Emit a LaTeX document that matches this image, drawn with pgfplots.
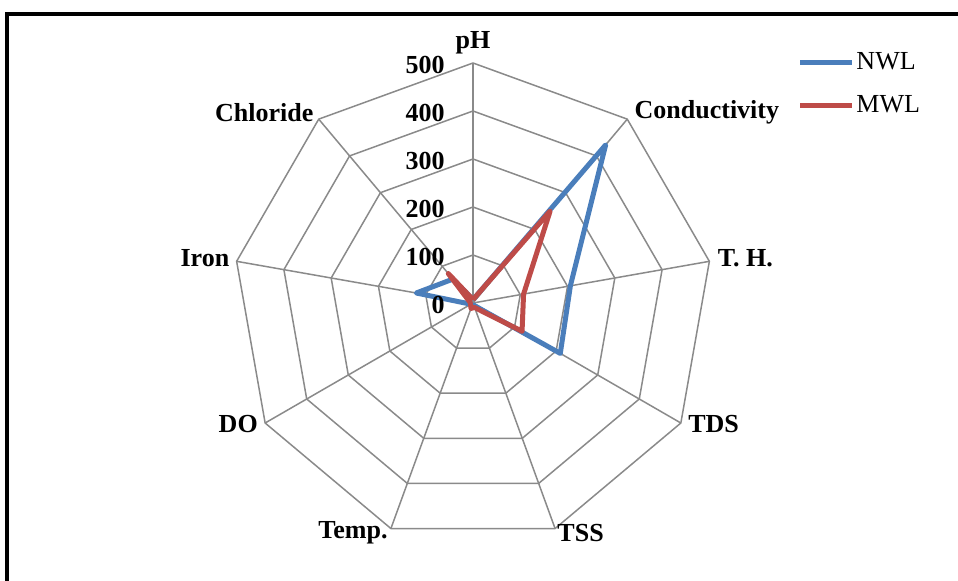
\documentclass[border=0pt]{standalone}
\usepackage{fontspec}
\setmainfont{Liberation Serif}
\usepackage{pgfplots}
\pgfplotsset{compat=1.18}
\usepgfplotslibrary{polar}
\definecolor{nwl}{HTML}{4A7EBB}
\definecolor{mwl}{HTML}{BE4B48}
\definecolor{gridc}{HTML}{8A8A8A}
\newcommand\lbl{\fontsize{13bp}{15bp}\selectfont\bfseries}
\begin{document}
\begin{tikzpicture}
\begin{polaraxis}[
  hide axis,
  width=240bp, height=240bp, scale only axis,
  xmin=0, xmax=360, ymin=0, ymax=500,
  clip=false,
  legend style={at={(1.176,1.0256)}, anchor=north west, draw=none, fill=none,
    font=\fontsize{13bp}{15bp}\selectfont, row sep=10bp, inner sep=0pt,
    nodes={inner sep=0.8bp}},
  legend image code/.code={\draw[#1] (0bp,0bp) -- (26bp,0bp);},
  legend cell align=left,
]
% grid
\pgfplotsinvokeforeach{90,50,10,330,290,250,210,170,130}{
  \addplot[gridc, line width=0.75bp, forget plot] coordinates {(#1,0) (#1,500)};
}
\pgfplotsinvokeforeach{100,200,300,400,500}{
  \addplot[gridc, line width=0.75bp, forget plot, line join=miter] coordinates {(90,#1) (50,#1) (10,#1) (330,#1) (290,#1) (250,#1) (210,#1) (170,#1) (130,#1) (90,#1)};
}
% data: pH, Conductivity, T.H., TDS, TSS, Temp., DO, Iron, Chloride
\addplot[nwl, line width=2.5bp, line join=round] coordinates {
  (90,7) (50,430) (10,206) (330,210) (290,5) (250,5) (210,5) (170,120) (130,65) (90,7)};
\addlegendentry{NWL}
\addplot[mwl, line width=2.5bp, line join=round] coordinates {
  (90,7) (50,250) (10,107) (330,118) (290,10) (250,12) (210,6) (170,6) (130,80) (90,7)};
\addlegendentry{MWL}
% tick labels
\pgfplotsinvokeforeach{0,100,200,300,400,500}{
  \node[anchor=east, inner sep=0pt, font=\lbl, xshift=-14bp, yshift=-1bp] at (axis cs:90,#1) {#1};
}
% category labels
\node[anchor=base, inner sep=0pt, font=\lbl, yshift=7bp] at (axis cs:90,500) {pH};
\node[anchor=west, inner sep=0pt, font=\lbl, xshift=3.5bp, yshift=3.5bp] at (axis cs:50,500) {Conductivity};
\node[anchor=west, inner sep=0pt, font=\lbl, xshift=4bp, yshift=1.5bp] at (axis cs:10,500) {T. H.};
\node[anchor=west, inner sep=0pt, font=\lbl, xshift=3.5bp, yshift=-0.5bp] at (axis cs:330,500) {TDS};
\node[anchor=west, inner sep=0pt, font=\lbl, xshift=1bp, yshift=-2bp] at (axis cs:290,500) {TSS};
\node[anchor=east, inner sep=0pt, font=\lbl, xshift=-1.5bp, yshift=-2bp] at (axis cs:250,500) {Temp.};
\node[anchor=east, inner sep=0pt, font=\lbl, xshift=-3.5bp, yshift=-0.5bp] at (axis cs:210,500) {DO};
\node[anchor=east, inner sep=0pt, font=\lbl, xshift=-3.5bp, yshift=1.5bp] at (axis cs:170,500) {Iron};
\node[anchor=east, inner sep=0pt, font=\lbl, xshift=-2.5bp, yshift=3.5bp] at (axis cs:130,500) {Chloride};
\coordinate (C) at (axis cs:0,0);
\end{polaraxis}
\begin{scope}[shift={(C)}]
\useasboundingbox (-236.5bp,-139bp) rectangle (242.5bp,151.5bp);
\draw[black, line width=2bp] (-233bp,-170bp) rectangle (270bp,144.5bp);
\end{scope}
\end{tikzpicture}
\end{document}
